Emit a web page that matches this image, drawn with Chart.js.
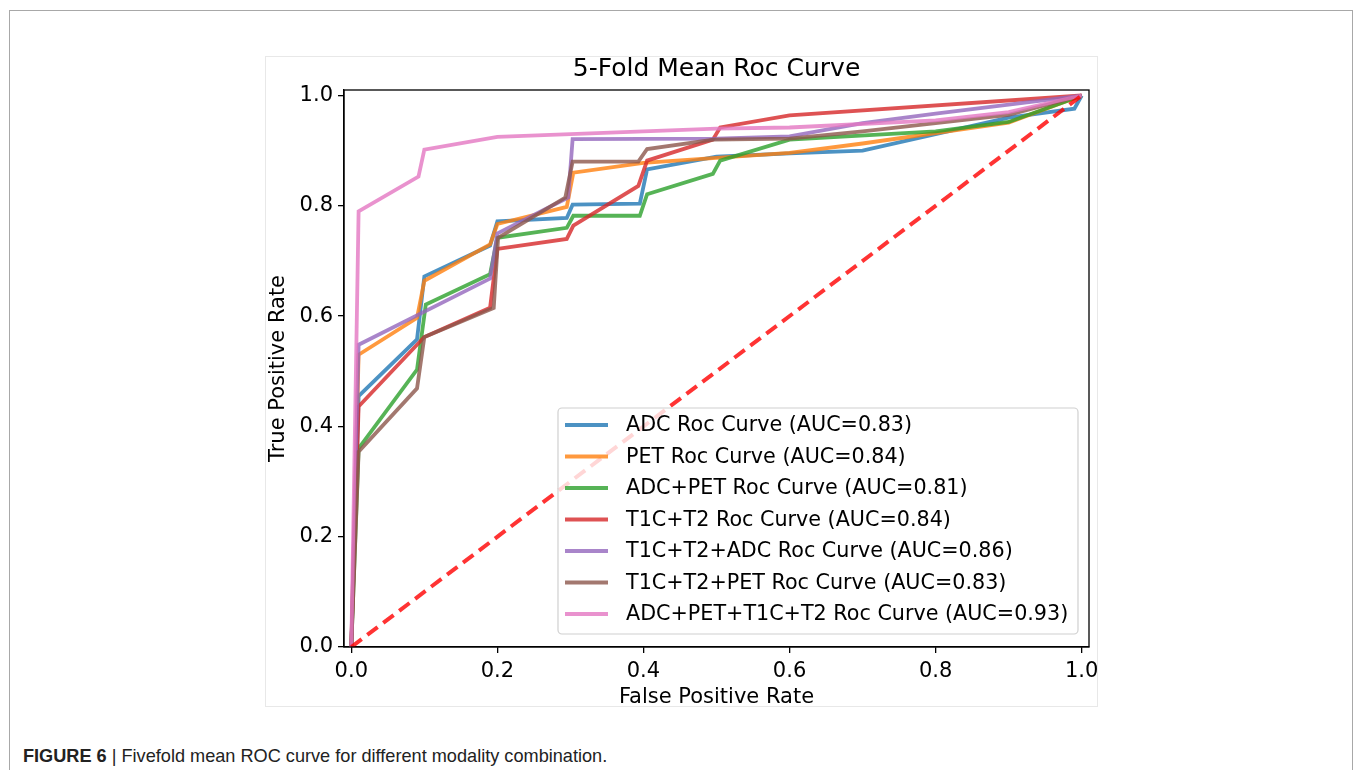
<!DOCTYPE html>
<html>
<head>
<meta charset="utf-8">
<script src="https://cdn.jsdelivr.net/npm/chart.js@4/dist/chart.umd.min.js"></script>
<style>
  body { margin: 0; background: #fff; width: 1355px; height: 770px; overflow: hidden; position: relative; }
  #frame { position: absolute; left: 9px; top: 10px; width: 1342px; height: 800px; border: 1px solid #a8a8a8; }
  #figbox { position: absolute; left: 266px; top: 57px; width: 831px; height: 649px; outline: 1px solid #e8e8e8; }
  #caption { position: absolute; left: 23px; top: 745px; font-family: "Liberation Sans", Arial, sans-serif; font-size: 19px; color: #222; white-space: nowrap; transform: scaleX(0.955); transform-origin: left top; }
  #caption b { font-weight: bold; }
</style>
</head>
<body>
<div id="frame"></div>
<div id="figbox"><canvas id="rocChart" width="831" height="649"></canvas></div>
<div id="caption"><b>FIGURE 6</b> | Fivefold mean ROC curve for different modality combination.</div>

<script>
// ROC curves (false positive rate / true positive rate)
const adcFpr = [0, 0.01, 0.09, 0.1, 0.19, 0.2, 0.295, 0.303, 0.395, 0.405, 0.5, 0.6, 0.7, 0.9, 0.99, 1.0];
const adcTpr = [0, 0.455, 0.558, 0.672, 0.728, 0.772, 0.778, 0.802, 0.804, 0.866, 0.889, 0.895, 0.9, 0.96, 0.976, 1.0];

const petFpr = [0, 0.01, 0.09, 0.1, 0.19, 0.2, 0.295, 0.304, 0.4, 0.5, 0.6, 0.7, 0.9, 1.0];
const petTpr = [0, 0.53, 0.597, 0.664, 0.73, 0.767, 0.798, 0.86, 0.878, 0.887, 0.896, 0.913, 0.951, 1.0];

const adcPetFpr = [0, 0.01, 0.09, 0.102, 0.19, 0.2, 0.295, 0.304, 0.395, 0.405, 0.495, 0.505, 0.6, 0.8, 0.9, 0.98, 1.0];
const adcPetTpr = [0, 0.36, 0.503, 0.621, 0.676, 0.742, 0.76, 0.782, 0.782, 0.821, 0.858, 0.882, 0.92, 0.935, 0.952, 0.99, 1.0];

const t1t2Fpr = [0, 0.01, 0.1, 0.19, 0.2, 0.295, 0.304, 0.393, 0.405, 0.495, 0.505, 0.6, 1.0];
const t1t2Tpr = [0, 0.436, 0.562, 0.615, 0.722, 0.74, 0.764, 0.836, 0.882, 0.92, 0.942, 0.964, 1.0];

const t1t2AdcFpr = [0, 0.01, 0.19, 0.2, 0.297, 0.303, 0.5, 0.6, 0.7, 0.8, 1.0];
const t1t2AdcTpr = [0, 0.548, 0.668, 0.75, 0.815, 0.921, 0.922, 0.926, 0.95, 0.967, 1.0];

const t1t2PetFpr = [0, 0.01, 0.09, 0.1, 0.195, 0.201, 0.293, 0.303, 0.393, 0.405, 0.496, 0.6, 0.7, 0.8, 0.9, 1.0];
const t1t2PetTpr = [0, 0.354, 0.469, 0.562, 0.615, 0.742, 0.815, 0.88, 0.88, 0.903, 0.92, 0.922, 0.935, 0.95, 0.965, 1.0];

const allFpr = [0, 0.01, 0.092, 0.1, 0.2, 0.5, 0.6, 0.8, 0.9, 1.0];
const allTpr = [0, 0.79, 0.853, 0.902, 0.925, 0.94, 0.942, 0.955, 0.97, 1.0];

const chanceFpr = [0, 1];
const chanceTpr = [0, 1];

const curveLabels = [
  "ADC Roc Curve (AUC=0.83)",
  "PET Roc Curve (AUC=0.84)",
  "ADC+PET Roc Curve (AUC=0.81)",
  "T1C+T2 Roc Curve (AUC=0.84)",
  "T1C+T2+ADC Roc Curve (AUC=0.86)",
  "T1C+T2+PET Roc Curve (AUC=0.83)",
  "ADC+PET+T1C+T2 Roc Curve (AUC=0.93)"
];
const curveColors = [
  "rgba(31,119,180,0.8)",
  "rgba(255,127,14,0.8)",
  "rgba(44,160,44,0.8)",
  "rgba(214,39,40,0.8)",
  "rgba(148,103,189,0.8)",
  "rgba(140,86,75,0.8)",
  "rgba(227,119,194,0.8)"
];
const xTickValues = [0, 0.2, 0.4, 0.6, 0.8, 1.0];
const yTickValues = [0, 0.2, 0.4, 0.6, 0.8, 1.0];
const chartTitle = "5-Fold Mean Roc Curve";

const FONT = "'DejaVu Sans', sans-serif";

function toPoints(xs, ys) {
  return xs.map((x, i) => ({ x: x, y: ys[i] }));
}

const curveData = [
  [adcFpr, adcTpr],
  [petFpr, petTpr],
  [adcPetFpr, adcPetTpr],
  [t1t2Fpr, t1t2Tpr],
  [t1t2AdcFpr, t1t2AdcTpr],
  [t1t2PetFpr, t1t2PetTpr],
  [allFpr, allTpr]
];

const datasets = curveData.map((c, i) => ({
  label: curveLabels[i],
  data: toPoints(c[0], c[1]),
  borderColor: curveColors[i],
  borderWidth: 3.8,
  pointRadius: 0,
  fill: false,
  tension: 0,
  order: 7 - i
}));
datasets.push({
  label: "chance",
  data: toPoints(chanceFpr, chanceTpr),
  borderColor: "rgba(255,0,0,0.8)",
  borderWidth: 4,
  borderDash: [13, 7],
  pointRadius: 0,
  fill: false,
  order: 0
});

// matplotlib-like box around the axes + title centred over the axes
const framePlugin = {
  id: "frame",
  afterDatasetsDraw(chart) {
    const a = chart.chartArea;
    const ctx = chart.ctx;
    ctx.save();
    ctx.strokeStyle = "#000";
    ctx.lineWidth = 1.3;
    ctx.strokeRect(a.left, a.top, a.right - a.left, a.bottom - a.top);
    ctx.font = "25px " + FONT;
    ctx.fillStyle = "#000";
    ctx.textAlign = "center";
    ctx.textBaseline = "middle";
    ctx.fillText(chartTitle, (a.left + a.right) / 2, 12);
    ctx.restore();
  }
};

// legend drawn inside the plot, lower right
const legendPlugin = {
  id: "insideLegend",
  afterDraw(chart) {
    const ctx = chart.ctx;
    const left = 292, top = 351, w = 520, h = 226;
    ctx.save();
    ctx.fillStyle = "rgba(255,255,255,0.8)";
    ctx.strokeStyle = "#d0d0d0";
    ctx.lineWidth = 1.2;
    ctx.beginPath();
    ctx.roundRect(left, top, w, h, 4);
    ctx.fill();
    ctx.stroke();
    ctx.font = "20.7px " + FONT;
    ctx.textBaseline = "middle";
    ctx.fillStyle = "#000";
    curveLabels.forEach((lab, i) => {
      const y = top + 17 + i * 31.5;
      ctx.strokeStyle = curveColors[i];
      ctx.lineWidth = 3.8;
      ctx.beginPath();
      ctx.moveTo(left + 7, y);
      ctx.lineTo(left + 50, y);
      ctx.stroke();
      ctx.fillText(lab, left + 68, y + 1);
    });
    ctx.restore();
  }
};

new Chart(document.getElementById("rocChart"), {
  type: "line",
  data: { datasets: datasets },
  options: {
    responsive: false,
    animation: false,
    devicePixelRatio: 1,
    layout: { padding: { left: 0, right: 8, top: 33, bottom: 0 } },
    plugins: {
      legend: { display: false },
      tooltip: { enabled: false },
      title: { display: false }
    },
    scales: {
      x: {
        type: "linear",
        min: -0.01,
        max: 1.01,
        afterBuildTicks: (s) => { s.ticks = xTickValues.map((v) => ({ value: v })); },
        afterFit: (s) => { s.height = 59; s.paddingLeft = 0; s.paddingRight = 0; },
        ticks: {
          color: "#000",
          font: { family: FONT, size: 21 },
          padding: 6,
          maxRotation: 0,
          callback: (v) => Number(v).toFixed(1)
        },
        grid: { drawOnChartArea: false, drawTicks: true, tickLength: 6, color: "#000", lineWidth: 1.3 },
        border: { display: true, color: "#000", width: 1.3 },
        title: {
          display: true,
          text: "False Positive Rate",
          color: "#000",
          font: { family: FONT, size: 21, lineHeight: 0.8 },
          padding: { top: 0, bottom: 0 }
        }
      },
      y: {
        type: "linear",
        min: 0,
        max: 1.01,
        afterBuildTicks: (s) => { s.ticks = yTickValues.map((v) => ({ value: v })); },
        afterFit: (s) => { s.width = 78; s.paddingTop = 0; s.paddingBottom = 0; },
        ticks: {
          color: "#000",
          font: { family: FONT, size: 21 },
          padding: 5,
          callback: (v) => Number(v).toFixed(1)
        },
        grid: { drawOnChartArea: false, drawTicks: true, tickLength: 6, color: "#000", lineWidth: 1.3 },
        border: { display: true, color: "#000", width: 1.3 },
        title: {
          display: true,
          text: "True Positive Rate",
          color: "#000",
          font: { family: FONT, size: 21 },
          padding: { top: 0, bottom: 0 }
        }
      }
    }
  },
  plugins: [framePlugin, legendPlugin]
});
</script>
</body>
</html>
